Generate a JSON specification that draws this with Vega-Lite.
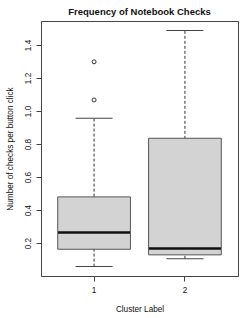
{
  "$schema": "https://vega.github.io/schema/vega-lite/v6.json",
  "autosize": "none",
  "width": 197,
  "height": 255,
  "padding": {"left": 41, "top": 21, "right": 11, "bottom": 42},
  "background": "white",
  "config": {
    "font": "Liberation Sans",
    "view": {"stroke": "#444", "strokeWidth": 1},
    "axis": {"domain": false, "grid": false, "tickColor": "#444", "tickSize": 5, "labelFontSize": 8.2, "labelColor": "#111", "titleFontSize": 8.2, "titleFontWeight": "normal", "titleColor": "#111", "labelFont": "Liberation Sans", "titleFont": "Liberation Sans"}
  },
  "title": {"text": "Frequency of Notebook Checks", "fontSize": 9.5, "fontWeight": "bold", "font": "Liberation Sans", "color": "#111", "anchor": "middle", "offset": 5},
  "datasets": {
    "boxes": [
      {"cluster": 1, "lo": 0.058, "q1": 0.163, "median": 0.264, "q3": 0.48, "hi": 0.956},
      {"cluster": 2, "lo": 0.105, "q1": 0.129, "median": 0.167, "q3": 0.835, "hi": 1.488}
    ],
    "outliers": [
      {"cluster": 1, "value": 1.067},
      {"cluster": 1, "value": 1.298}
    ]
  },
  "encoding": {
    "x": {"field": "cluster", "type": "ordinal",
      "scale": {"type": "band", "domain": [1, 2], "paddingInner": 0.2, "paddingOuter": 0.184},
      "axis": {"title": "Cluster Label", "labelAngle": 0, "labelPadding": 5, "titlePadding": 12}}
  },
  "layer": [
    {
      "data": {"name": "boxes"},
      "mark": {"type": "rule", "strokeDash": [3, 2], "color": "#333", "strokeWidth": 1, "opacity": 1},
      "encoding": {
        "y": {"field": "lo", "type": "quantitative",
          "scale": {"domain": [0.001, 1.545], "nice": false, "zero": false},
          "axis": {"title": "Number of checks per button click", "values": [0.2, 0.4, 0.6, 0.8, 1.0, 1.2, 1.4], "format": ".1f", "labelAngle": -90, "labelAlign": "center", "labelBaseline": "bottom", "labelPadding": 4, "titlePadding": 9}},
        "y2": {"field": "hi"}
      }
    },
    {
      "data": {"name": "boxes"},
      "mark": {"type": "tick", "size": 37, "thickness": 1, "color": "#444", "opacity": 1},
      "encoding": {"y": {"field": "lo", "type": "quantitative"}}
    },
    {
      "data": {"name": "boxes"},
      "mark": {"type": "tick", "size": 37, "thickness": 1, "color": "#444", "opacity": 1},
      "encoding": {"y": {"field": "hi", "type": "quantitative"}}
    },
    {
      "data": {"name": "boxes"},
      "mark": {"type": "bar", "fill": "#d3d3d3", "stroke": "#555", "strokeWidth": 1, "opacity": 1},
      "encoding": {"y": {"field": "q1", "type": "quantitative"}, "y2": {"field": "q3"}}
    },
    {
      "data": {"name": "boxes"},
      "mark": {"type": "tick", "size": 72, "thickness": 2.5, "color": "#111", "opacity": 1},
      "encoding": {"y": {"field": "median", "type": "quantitative"}}
    },
    {
      "data": {"name": "outliers"},
      "mark": {"type": "point", "shape": "circle", "filled": false, "size": 16, "color": "#333", "strokeWidth": 1, "opacity": 1},
      "encoding": {"y": {"field": "value", "type": "quantitative"}}
    }
  ]
}
